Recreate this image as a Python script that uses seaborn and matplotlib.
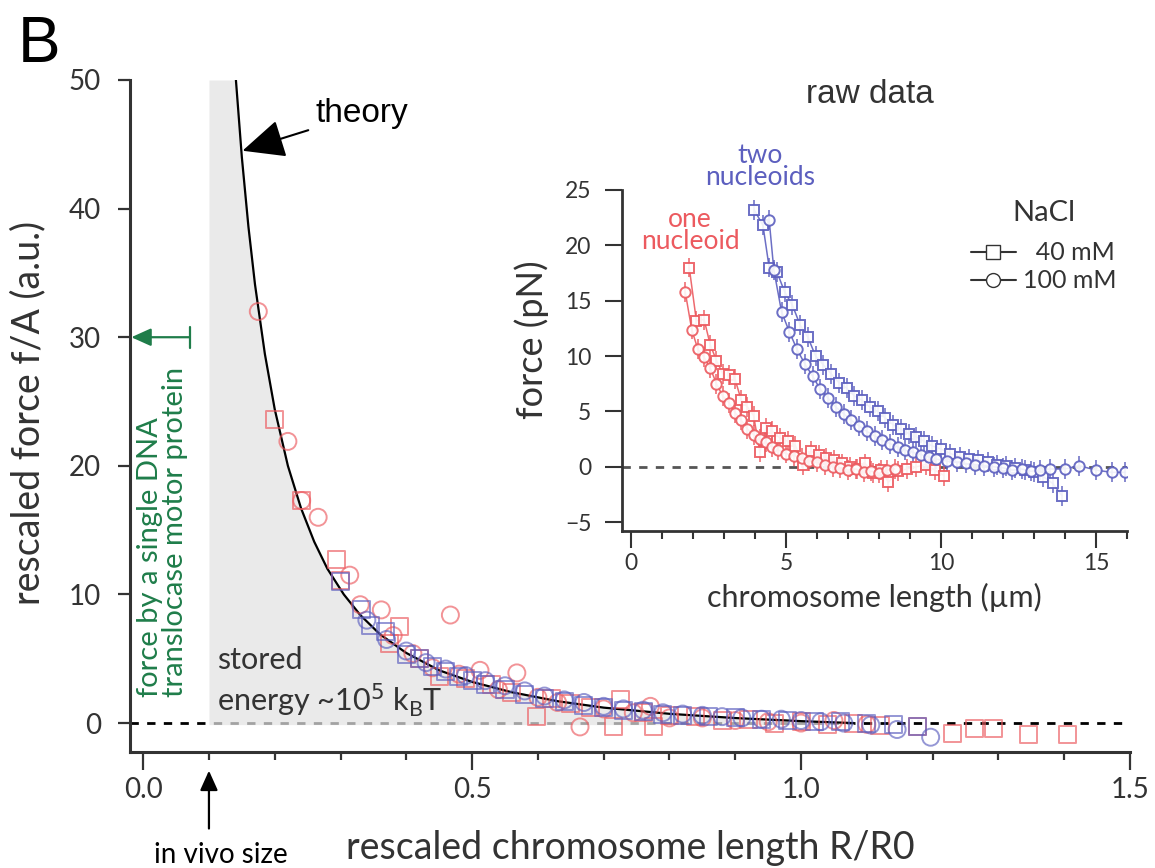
import numpy as np
import pandas as pd
import matplotlib
matplotlib.use("Agg")
import matplotlib.pyplot as plt
import seaborn as sns
from matplotlib.lines import Line2D
from matplotlib.ticker import MultipleLocator

# ================================================================================
# Data
# ================================================================================
# Theory curve, rescaled force vs rescaled length
theory_R = [0.141, 0.150, 0.160, 0.170, 0.185, 0.200, 0.220, 0.240, 0.260, 0.280, 0.305,
            0.330, 0.360, 0.400, 0.450, 0.500, 0.560, 0.630, 0.700, 0.800, 0.900, 1.000, 1.080]
theory_f = [50.0, 44.0, 38.6, 34.1, 28.7, 24.4, 20.0, 16.7, 14.1, 12.0, 10.0,
            8.4, 6.9, 5.45, 4.1, 3.2, 2.4, 1.7, 1.2, 0.72, 0.39, 0.15, 0.0]

# Rescaled data: one nucleoid (red), two nucleoids (blue); squares 40 mM, circles 100 mM
red_sq_R = [0.200, 0.241, 0.294, 0.300, 0.390, 0.375, 0.420, 0.451, 0.490, 0.530, 0.560, 0.598,
            0.620, 0.650, 0.680, 0.715, 0.725, 0.760, 0.776, 0.800, 0.840, 0.880, 0.920, 0.960,
            1.000, 1.040, 1.080, 1.120, 1.177, 1.230, 1.263, 1.293, 1.346, 1.405]
red_sq_f = [23.6, 17.3, 12.7, 11.1, 7.5, 6.2, 5.0, 3.6, 3.5, 3.0, 2.4, 0.5,
            1.9, 1.5, 1.2, -0.3, 1.8, 0.8, -0.3, 0.6, 0.5, 0.2, 0.3, 0.0,
            0.1, -0.1, 0.0, -0.2, -0.3, -0.8, -0.4, -0.4, -0.9, -0.9]
red_ci_R = [0.175, 0.220, 0.241, 0.266, 0.314, 0.330, 0.362, 0.380, 0.410, 0.467, 0.440, 0.480,
            0.512, 0.540, 0.568, 0.600, 0.630, 0.664, 0.700, 0.745, 0.771, 0.800, 0.850, 0.900,
            0.950, 1.000, 1.050, 1.100]
red_ci_f = [32.0, 21.9, 17.3, 16.0, 11.5, 9.2, 8.8, 6.8, 5.4, 8.4, 4.3, 3.8,
            4.1, 2.6, 3.9, 2.0, 1.6, -0.3, 1.1, 0.8, 1.3, 0.4, 0.4, 0.2,
            0.1, 0.0, 0.2, -0.1]
blue_sq_R = [0.300, 0.332, 0.345, 0.368, 0.400, 0.420, 0.440, 0.460, 0.480, 0.500, 0.520, 0.550,
             0.580, 0.610, 0.640, 0.670, 0.700, 0.730, 0.760, 0.790, 0.820, 0.860, 0.900, 0.940,
             0.980, 1.020, 1.060, 1.100, 1.140, 1.177]
blue_sq_f = [11.0, 8.8, 7.6, 7.1, 5.3, 5.0, 4.4, 4.0, 3.6, 3.3, 3.0, 2.6,
             2.2, 1.9, 1.7, 1.4, 1.2, 1.0, 0.9, 0.7, 0.6, 0.5, 0.4, 0.3,
             0.2, 0.1, 0.1, 0.0, -0.1, -0.3]
blue_ci_R = [0.340, 0.370, 0.400, 0.430, 0.460, 0.490, 0.520, 0.550, 0.580, 0.610, 0.640, 0.670,
             0.700, 0.730, 0.760, 0.790, 0.820, 0.850, 0.880, 0.910, 0.940, 0.970, 1.000, 1.030,
             1.065, 1.106, 1.146, 1.197]
blue_ci_f = [8.0, 6.5, 5.6, 4.7, 4.2, 3.7, 3.3, 2.9, 2.5, 2.1, 1.8, 1.6,
             1.3, 1.1, 1.0, 0.8, 0.7, 0.6, 0.5, 0.4, 0.3, 0.3, 0.2, 0.1,
             0.0, -0.15, -0.5, -1.1]

# Raw data (inset): chromosome length (um) vs force (pN)
raw_red_sq_L = [1.87, 2.10, 2.35, 2.55, 2.75, 2.95, 3.15, 3.35, 3.55, 3.75, 3.95, 4.15,
                4.35, 4.55, 4.80, 5.05, 5.30, 5.55, 5.80, 6.05, 6.30, 6.55, 6.80, 7.05,
                7.30, 7.55, 7.80, 8.05, 8.30, 8.60, 8.90, 9.20, 9.50, 9.80, 10.1]
raw_red_sq_F = [18.0, 13.2, 13.3, 11.0, 9.6, 8.4, 8.3, 7.9, 6.0, 5.4, 4.6, 1.3,
                3.5, 3.2, 2.6, 2.3, 1.9, 0.2, 1.4, 1.1, 0.8, 0.6, 0.3, 0.0,
                -0.2, 0.3, -0.6, -0.3, -1.4, -0.4, -0.2, 0.0, 0.2, -0.3, -0.8]
raw_red_ci_L = [1.74, 1.95, 2.15, 2.35, 2.55, 2.75, 2.95, 3.15, 3.35, 3.55, 3.75, 3.95,
                4.15, 4.35, 4.55, 4.75, 5.00, 5.25, 5.50, 5.75, 6.00, 6.25, 6.50, 6.75,
                7.00, 7.25, 7.50, 7.75, 8.00, 8.25, 8.50]
raw_red_ci_F = [15.8, 12.4, 10.6, 9.9, 8.9, 7.5, 6.4, 5.8, 4.9, 4.2, 3.4, 2.9,
                2.5, 2.2, 1.8, 1.5, 1.2, 1.0, 0.8, 0.5, 0.4, 0.2, 0.0, -0.1,
                -0.3, -0.2, -0.5, -0.4, -0.6, -0.3, -0.2]
raw_blue_sq_L = [3.97, 4.25, 4.45, 4.70, 4.95, 5.20, 5.45, 5.70, 5.95, 6.20, 6.45, 6.70,
                 6.95, 7.20, 7.45, 7.70, 7.95, 8.20, 8.45, 8.70, 8.95, 9.20, 9.45, 9.70,
                 10.0, 10.3, 10.6, 10.9, 11.2, 11.5, 11.8, 12.1, 12.4, 12.7, 13.0, 13.3,
                 13.6, 13.9]
raw_blue_sq_F = [23.2, 21.8, 18.0, 17.6, 15.8, 14.6, 12.8, 11.7, 10.0, 9.2, 8.4, 7.6,
                 7.1, 6.4, 6.0, 5.4, 5.0, 4.4, 3.8, 3.4, 3.0, 2.7, 2.3, 1.9,
                 1.6, 1.2, 0.9, 0.7, 0.6, 0.4, 0.2, 0.1, -0.1, -0.3, -0.5, -0.9,
                 -1.5, -2.6]
raw_blue_ci_L = [4.45, 4.60, 4.85, 5.10, 5.35, 5.60, 5.85, 6.10, 6.35, 6.60, 6.85, 7.10,
                 7.35, 7.60, 7.85, 8.10, 8.35, 8.60, 8.85, 9.10, 9.35, 9.60, 9.85, 10.2,
                 10.5, 10.8, 11.1, 11.4, 11.7, 12.0, 12.3, 12.6, 12.9, 13.2, 13.5, 14.0,
                 14.45, 15.0, 15.5, 15.95]
raw_blue_ci_F = [22.3, 17.8, 14.0, 12.2, 10.6, 9.3, 8.2, 7.0, 6.2, 5.4, 4.8, 4.2,
                 3.7, 3.2, 2.8, 2.4, 2.1, 1.8, 1.5, 1.3, 1.1, 0.9, 0.7, 0.5,
                 0.4, 0.3, 0.2, 0.1, 0.0, -0.1, -0.3, -0.2, -0.4, -0.3, -0.2, -0.2,
                 0.1, -0.3, -0.5, -0.5]
raw_err = 0.9   # typical error bar half-length (pN)

# ================================================================================
# Styling
# ================================================================================
RED   = "#ec5a5f"
BLUE  = "#5c5fbf"
GREEN = "#1f7d4a"
DARK  = "#333333"
SANS  = "Lato"
HELV  = "Liberation Sans"

sns.set_theme(style="ticks")
plt.rcParams["font.family"] = [SANS, "DejaVu Sans"]
plt.rcParams["axes.edgecolor"] = DARK
plt.rcParams["xtick.color"] = DARK
plt.rcParams["ytick.color"] = DARK

fig = plt.figure(figsize=(11.55, 8.68), dpi=100)
W, H = 1155, 868

def px_axes(l, t, r, b):
    return [l / W, 1 - b / H, (r - l) / W, (b - t) / H]

# ================================================================================
# Main panel
# ================================================================================
ax = fig.add_axes(px_axes(130, 80, 1130, 752))
ax.set_xlim(-0.02, 1.5)
ax.set_ylim(-2.25, 50)

# Zero line, then the stored-energy shading over it
ax.axhline(0, color="black", lw=2, ls=(0, (3, 3)), zorder=1)
fill_R = [0.1] + theory_R
fill_f = [50.0] + theory_f
ax.fill_between(fill_R, -0.12, fill_f, color="#e2e2e2", alpha=0.72, lw=0, zorder=2)

# Theory
sns.lineplot(x=theory_R, y=theory_f, color="black", lw=1.6, ax=ax, zorder=3,
             sort=False, estimator=None)

# Rescaled data
main_series = [
    (red_sq_R,  red_sq_f,  RED,  "s"),
    (red_ci_R,  red_ci_f,  RED,  "o"),
    (blue_sq_R, blue_sq_f, BLUE, "s"),
    (blue_ci_R, blue_ci_f, BLUE, "o"),
]
for xs, ys, col, mk in main_series:
    sns.scatterplot(x=xs, y=ys, marker=mk, s=150, facecolor="none", edgecolor=col,
                    linewidth=1.4, alpha=0.65, ax=ax, zorder=4)

# Axes styling
sns.despine(ax=ax)
for side in ["left", "bottom"]:
    ax.spines[side].set_linewidth(2.2)
ax.set_xticks([0.0, 0.5, 1.0, 1.5])
ax.set_xticklabels(["0.0", "0.5", "1.0", "1.5"])
ax.xaxis.set_minor_locator(MultipleLocator(0.1))
ax.set_yticks([0, 10, 20, 30, 40, 50])
ax.tick_params(axis="x", which="major", length=13, width=1.6, labelsize=20, pad=5)
ax.tick_params(axis="x", which="minor", length=6, width=1.6)
ax.tick_params(axis="y", which="major", length=9, width=1.6, labelsize=20, pad=12)

ax.set_xlabel("rescaled chromosome length R/R0", fontsize=27, color=DARK)
ax.xaxis.set_label_coords(0.50, -0.116)
ax.set_ylabel("rescaled force f/A (a.u.)", fontsize=27, color=DARK)
ax.yaxis.set_label_coords(-0.084, 0.504)

# Annotations
fig.text(18 / W, 1 - 62 / H, "B", fontsize=46, family=HELV, color="black")
ax.annotate("theory", xy=(0.151, 44.5), xytext=(0.262, 47.4), fontsize=24, family=HELV,
            color="black", va="center",
            arrowprops=dict(arrowstyle="-|>,head_length=1.1,head_width=0.5",
                            color="black", lw=1.5, shrinkA=3, shrinkB=0))
ax.text(0.112, 4.9, "stored", fontsize=22, color=DARK, va="center")
ax.text(0.112, 1.8, "energy ~10$^5$ k$_\\mathregular{B}$T", fontsize=22, color=DARK, va="center")

# "in vivo size" marker under the x axis
ax.annotate("", xy=(0.1, -3.7), xytext=(0.1, -8.2), annotation_clip=False,
            arrowprops=dict(arrowstyle="-|>,head_length=1.0,head_width=0.45",
                            color="black", lw=1.6, shrinkA=0, shrinkB=0))
ax.text(0.118, -10.85, "in vivo size", fontsize=20, color="black", ha="center",
        va="baseline", clip_on=False)

# Motor force marker at f/A = 30
ax.annotate("", xy=(-0.018, 30), xytext=(0.071, 30), annotation_clip=False,
            arrowprops=dict(arrowstyle="-|>,head_length=1.0,head_width=0.45",
                            color=GREEN, lw=1.6, shrinkA=0, shrinkB=0))
ax.plot([0.071, 0.071], [29.2, 30.8], color=GREEN, lw=1.6)
ax.text(0.03, 2.0, "force by a single DNA\ntranslocase motor protein", rotation=90,
        fontsize=21, color=GREEN, ha="center", va="bottom", multialignment="left",
        linespacing=0.95)

# ================================================================================
# Inset: raw data
# ================================================================================
ins = fig.add_axes(px_axes(622, 190, 1127, 531))
ins.set_facecolor("none")
ins.set_xlim(-0.3, 16)
ins.set_ylim(-5.8, 25)
ins.axhline(0, color="#555555", lw=2, ls=(0, (3, 3)), zorder=1)

raw_series = [
    (raw_red_sq_L,  raw_red_sq_F,  RED,  "s"),
    (raw_red_ci_L,  raw_red_ci_F,  RED,  "o"),
    (raw_blue_sq_L, raw_blue_sq_F, BLUE, "s"),
    (raw_blue_ci_L, raw_blue_ci_F, BLUE, "o"),
]
for xs, ys, col, mk in raw_series:
    ins.errorbar(xs, ys, yerr=raw_err, fmt="none", ecolor=col, elinewidth=1.3, alpha=0.8, zorder=2)
    sns.lineplot(x=xs, y=ys, color=col, lw=1.1, marker=mk, markersize=7.5,
                 markerfacecolor="white", markeredgecolor=col, markeredgewidth=1.4,
                 sort=False, estimator=None, alpha=0.9, ax=ins, zorder=3)

sns.despine(ax=ins)
for side in ["left", "bottom"]:
    ins.spines[side].set_linewidth(2.0)
ins.set_xticks([0, 5, 10, 15])
ins.xaxis.set_minor_locator(MultipleLocator(1))
ins.set_yticks([-5, 0, 5, 10, 15, 20, 25])
ins.tick_params(axis="x", which="major", length=12, width=1.5, labelsize=16.5, pad=4)
ins.tick_params(axis="x", which="minor", length=6, width=1.5)
ins.tick_params(axis="y", which="major", length=12, width=1.5, labelsize=16.5, pad=10)
ins.set_xlabel("chromosome length (µm)", fontsize=22, color=DARK)
ins.xaxis.set_label_coords(0.50, -0.152)
ins.set_ylabel("force (pN)", fontsize=26, color=DARK)
ins.yaxis.set_label_coords(-0.145, 0.56)
ins.text(0.49, 1.279, "raw data", transform=ins.transAxes, fontsize=24, family=HELV,
         color=DARK, ha="center", va="center")

ins.text(4.16, 27.15, "two\nnucleoids", color=BLUE, fontsize=19, ha="center", va="center",
         linespacing=0.85)
ins.text(1.9, 21.3, "one\nnucleoid", color=RED, fontsize=19, ha="center", va="center",
         linespacing=0.85)

# NaCl legend
fig.text(1044 / W, 1 - 213 / H, "NaCl", fontsize=21, color=DARK, ha="center", va="center")
handles = [
    Line2D([], [], color=DARK, marker="s", markerfacecolor="white", markersize=10, lw=1.5),
    Line2D([], [], color=DARK, marker="o", markerfacecolor="white", markersize=10, lw=1.5),
]
leg = ins.legend(handles, ["  40 mM", "100 mM"], loc="upper left",
                 bbox_to_anchor=(958 / W, 1 - 229 / H), bbox_transform=fig.transFigure,
                 frameon=False, fontsize=18, handlelength=1.8,
                 handletextpad=0.3, labelspacing=0.2, borderpad=0)
for t in leg.get_texts():
    t.set_color(DARK)

fig.savefig("out.png", dpi=100)
